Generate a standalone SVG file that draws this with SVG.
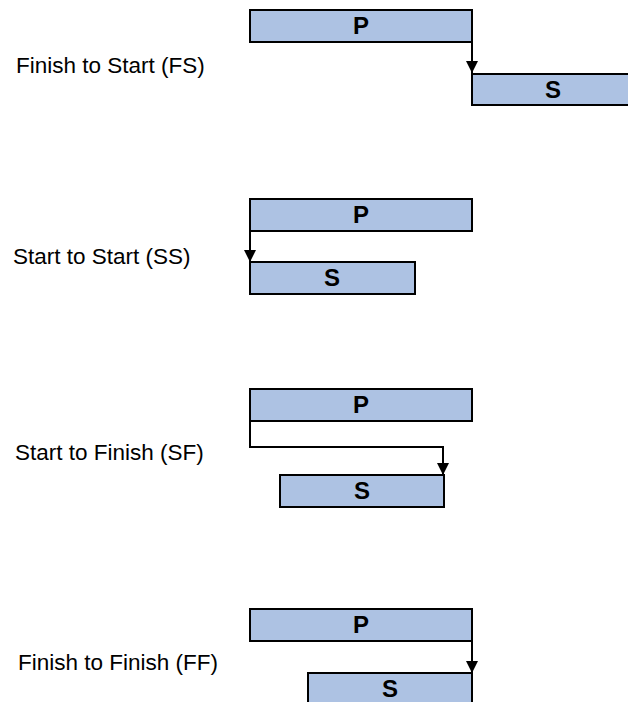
<svg xmlns="http://www.w3.org/2000/svg" width="628" height="702" viewBox="0 0 628 702">
<defs>
<style>
.bar{fill:#adc2e3;stroke:#000;stroke-width:2}
.bl{font-family:"Liberation Sans",Arial,sans-serif;font-weight:bold;font-size:24px;text-anchor:middle;fill:#000}
.lab{font-family:"Liberation Sans",Arial,sans-serif;font-size:22.5px;fill:#000}
.con{fill:none;stroke:#000;stroke-width:2}
</style>
<marker id="ah" markerWidth="13" markerHeight="12" refX="12" refY="6" orient="auto" markerUnits="userSpaceOnUse">
<path d="M0,0 L12,6 L0,12 Z" fill="#000"/>
</marker>
</defs>
<rect width="628" height="702" fill="#fff"/>
<g id="labels">
<text class="lab" x="16" y="73">Finish to Start (FS)</text>
<text class="lab" x="13" y="264">Start to Start (SS)</text>
<text class="lab" x="15" y="460">Start to Finish (SF)</text>
<text class="lab" x="18" y="670">Finish to Finish (FF)</text>
</g>
<g id="fs-p"><rect class="bar" x="250" y="10" width="222" height="32"/><text class="bl" x="361" y="34">P</text></g>
<g id="fs-s"><rect class="bar" x="472" y="74" width="160" height="31"/><text class="bl" x="553" y="98">S</text></g>
<g id="ss-p"><rect class="bar" x="250" y="199" width="222" height="32"/><text class="bl" x="361" y="223">P</text></g>
<g id="ss-s"><rect class="bar" x="250" y="262" width="165" height="32"/><text class="bl" x="332" y="286">S</text></g>
<g id="sf-p"><rect class="bar" x="250" y="389" width="222" height="32"/><text class="bl" x="361" y="413">P</text></g>
<g id="sf-s"><rect class="bar" x="280" y="475" width="164" height="32"/><text class="bl" x="362" y="499">S</text></g>
<g id="ff-p"><rect class="bar" x="250" y="609" width="222" height="32"/><text class="bl" x="361" y="633">P</text></g>
<g id="ff-s"><rect class="bar" x="308" y="673" width="164" height="40"/><text class="bl" x="390" y="697">S</text></g>
<g id="connectors">
<path class="con" d="M472,42 V73" marker-end="url(#ah)"/>
<path class="con" d="M250,231 V262" marker-end="url(#ah)"/>
<path class="con" d="M250,421 V447 H443 V475" marker-end="url(#ah)"/>
<path class="con" d="M472,641 V673" marker-end="url(#ah)"/>
</g>
</svg>
